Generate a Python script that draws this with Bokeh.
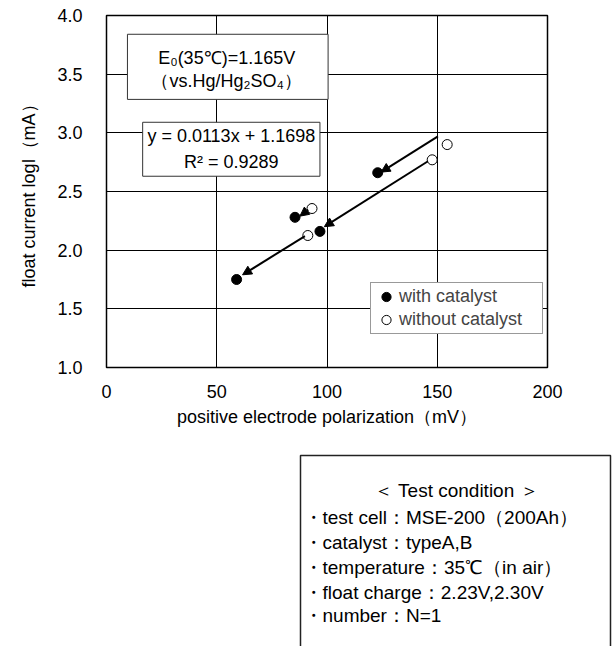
import math
from bokeh.plotting import figure
from bokeh.models import (Range1d, BoxAnnotation, Label, Arrow, NormalHead,
                          ColumnDataSource, FixedTicker)
from bokeh.layouts import column, row
from bokeh.core.properties import value
from bokeh.embed import file_html
from bokeh.resources import INLINE

# ---------------- data ----------------
x_ticks = [0, 50, 100, 150, 200]
y_ticks = [1.0, 1.5, 2.0, 2.5, 3.0, 3.5, 4.0]
y_tick_labels = ["1.0", "1.5", "2.0", "2.5", "3.0", "3.5", "4.0"]

with_x = [59.0, 85.5, 96.8, 123.0]
with_y = [1.75, 2.28, 2.16, 2.66]
without_x = [91.3, 93.2, 147.7, 154.5]
without_y = [2.125, 2.355, 2.77, 2.90]

arrow_x_start = [150.3, 145.8, 91.5, 90.0]
arrow_y_start = [2.97, 2.758, 2.344, 2.12]
arrow_x_end = [124.5, 98.8, 87.7, 61.7]
arrow_y_end = [2.665, 2.20, 2.29, 1.79]

box1_lines = ["E\u2080(35\u2103)=1.165V", "\uff08vs.Hg/Hg\u2082SO\u2084\uff09"]
box2_lines = ["y = 0.0113x + 1.1698", "R\u00b2 = 0.9289"]
legend_labels = ["with catalyst", "without catalyst"]
x_label = "positive electrode polarization\uff08mV\uff09"
y_label = "float current logI\uff08mA\uff09"

cond_title = "\uff1c Test condition \uff1e"
cond_lines = ["\u30fbtest cell\uff1aMSE-200\uff08200Ah\uff09",
              "\u30fbcatalyst\uff1atypeA,B",
              "\u30fbtemperature\uff1a35\u2103\uff08in air\uff09",
              "\u30fbfloat charge\uff1a2.23V,2.30V",
              "\u30fbnumber\uff1aN=1"]

FONT = "Liberation Sans"

# ---------------- main plot ----------------
p = figure(width=616, height=440, x_range=Range1d(0, 200), y_range=Range1d(1, 4),
           output_backend="svg", toolbar_location=None,
           min_border_left=106, min_border_right=69, min_border_top=15,
           min_border_bottom=73)
p.background_fill_color = "white"
p.border_fill_color = "white"
p.outline_line_color = "black"
p.outline_line_width = 1.5

p.xaxis.ticker = FixedTicker(ticks=x_ticks)
p.yaxis.ticker = FixedTicker(ticks=y_ticks)
p.yaxis.major_label_overrides = {t: l for t, l in zip(y_ticks, y_tick_labels)}
for ax in (p.xaxis, p.yaxis):
    ax.axis_line_color = None
    ax.major_tick_line_color = None
    ax.minor_tick_line_color = None
    ax.major_label_text_font = FONT
    ax.major_label_text_font_size = "18px"
    ax.major_label_text_color = "black"
    ax.axis_label_text_font = FONT
    ax.axis_label_text_font_size = "18px"
    ax.axis_label_text_font_style = "normal"
    ax.axis_label_text_color = "black"
p.xaxis.major_label_standoff = 11
p.yaxis.major_label_standoff = 18
p.xaxis.axis_label = x_label
p.xaxis.axis_label_standoff = 6
p.yaxis.axis_label = y_label
p.yaxis.axis_label_standoff = 15

p.xgrid.grid_line_color = "black"
p.ygrid.grid_line_color = "black"
p.xgrid.grid_line_width = 1
p.ygrid.grid_line_width = 1

# points
r1 = p.scatter(with_x, with_y, size=10, marker="circle", fill_color="black",
               line_color="black", line_width=1, legend_label=legend_labels[0])
r2 = p.scatter(without_x, without_y, size=10, marker="circle", fill_color="white",
               line_color="black", line_width=1, legend_label=legend_labels[1])

# arrows
asrc = ColumnDataSource(dict(xs=arrow_x_start, ys=arrow_y_start,
                             xe=arrow_x_end, ye=arrow_y_end))
p.add_layout(Arrow(end=NormalHead(size=9, fill_color="black", line_color="black",
                                  line_width=1),
                   x_start="xs", y_start="ys", x_end="xe", y_end="ye",
                   source=asrc, line_width=2, line_color="black"))

# text boxes
p.add_layout(BoxAnnotation(left=9.5, right=100.5, top=3.84, bottom=3.285,
                           fill_color="white", fill_alpha=1,
                           line_color="#333333", line_width=1, line_alpha=1))
p.add_layout(BoxAnnotation(left=16.4, right=96.8, top=3.09, bottom=2.63,
                           fill_color="white", fill_alpha=1,
                           line_color="#333333", line_width=1, line_alpha=1))
for txt, yy in zip(box1_lines, [3.642, 3.44]):
    p.add_layout(Label(x=54.5, y=yy, text=txt, text_align="center",
                       text_baseline="middle", text_font=FONT,
                       text_font_size="18px", text_color="black"))
for txt, yy in zip(box2_lines, [2.971, 2.75]):
    p.add_layout(Label(x=56.6, y=yy, text=txt, text_align="center",
                       text_baseline="middle", text_font=FONT,
                       text_font_size="18px", text_color="black"))

# legend
lg = p.legend[0]
lg.location = (264, 33)
lg.border_line_color = "#333333"
lg.border_line_width = 1
lg.background_fill_color = "white"
lg.background_fill_alpha = 1
lg.label_text_font = FONT
lg.label_text_font_size = "18px"
lg.padding = 2
lg.spacing = 0
lg.margin = 0
lg.glyph_width = 26
lg.glyph_height = 23
lg.label_height = 23
lg.label_width = 141
lg.label_standoff = 0

# ---------------- condition box ----------------
p2 = figure(frame_width=616, frame_height=206, x_range=Range1d(0, 616),
            y_range=Range1d(206, 0), output_backend="svg", toolbar_location=None,
            x_axis_type=None, y_axis_type=None, min_border=0)
p2.outline_line_color = None
p2.grid.visible = False
p2.line(x=[300, 300, 610, 610], y=[210, 15, 15, 210], line_color="#222222",
        line_width=1.5)
p2.text(x=[456], y=[50], text=[cond_title], text_align="center",
        text_baseline="middle", text_font=value(FONT), text_font_size="19px",
        text_color="black")
p2.text(x=[303] * len(cond_lines), y=[77, 102, 127, 152, 175], text=cond_lines,
        text_align="left", text_baseline="middle", text_font=value(FONT),
        text_font_size="19px", text_color="black")

layout = column(p, row(p2), spacing=0)
open("out.html", "w").write(file_html(layout, INLINE))
